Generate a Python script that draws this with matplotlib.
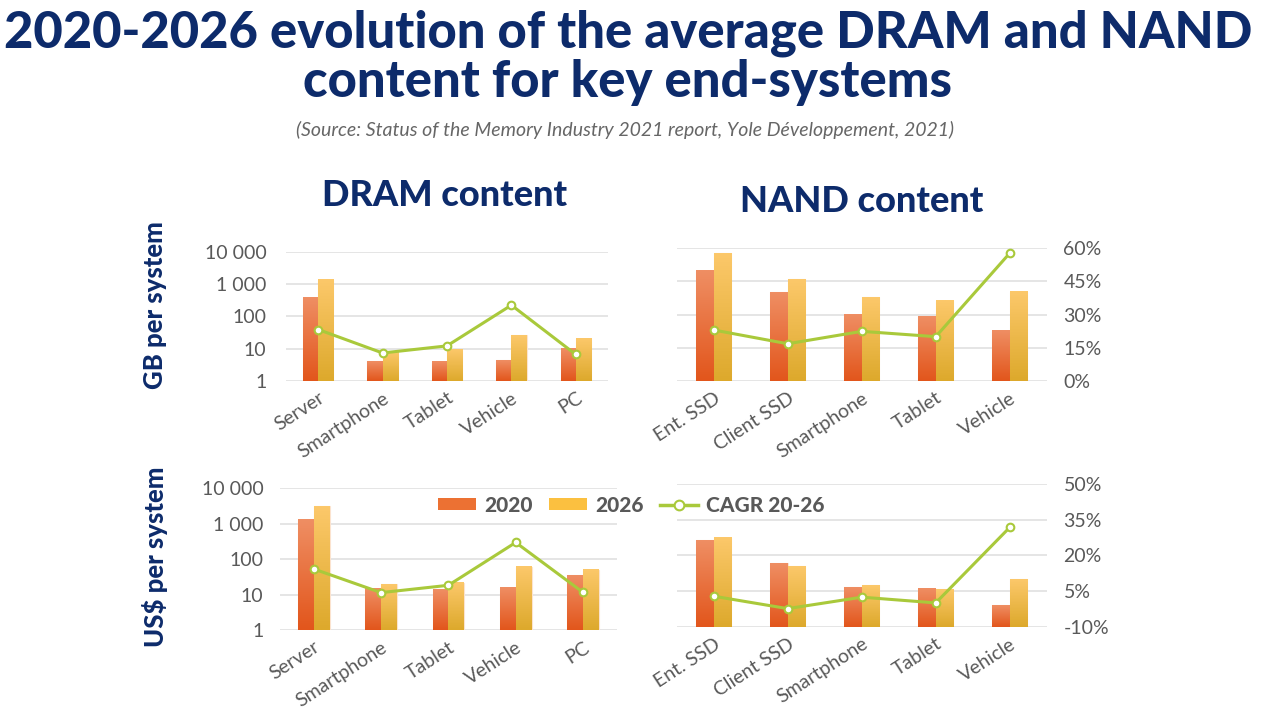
import matplotlib
matplotlib.use('Agg')
import matplotlib.pyplot as plt
import numpy as np
from matplotlib.colors import LinearSegmentedColormap
from matplotlib.lines import Line2D
from matplotlib.patches import Patch
from matplotlib.ticker import NullLocator

plt.rcParams['font.family'] = ['Lato', 'DejaVu Sans']

# categories
dram_cats = ['Server', 'Smartphone', 'Tablet', 'Vehicle', 'PC']
nand_cats = ['Ent. SSD', 'Client SSD', 'Smartphone', 'Tablet', 'Vehicle']

# GB per system
dram_gb_2020 = [380, 4.1, 3.9, 4.4, 10]
dram_gb_2026 = [1340, 8, 9.3, 26, 20]
dram_gb_cagr = [0.239, 0.13, 0.163, 0.352, 0.123]
nand_gb_2020 = [2100, 470, 100, 90, 32]
nand_gb_2026 = [7000, 1150, 330, 255, 475]
nand_gb_cagr = [0.23, 0.168, 0.224, 0.20, 0.577]

# US$ per system
dram_usd_2020 = [1280, 14.4, 14, 15.4, 35]
dram_usd_2026 = [3030, 19.5, 21.7, 60, 49]
dram_usd_cagr = [0.158, 0.058, 0.089, 0.27, 0.059]
nand_usd_2020 = [268, 60, 13, 11.6, 4.1]
nand_usd_2026 = [310, 50, 14.5, 11.4, 21.6]
nand_usd_cagr = [0.029, -0.023, 0.025, 0.001, 0.318]

log_ticks = [1, 10, 100, 1000, 10000]
log_labels = ['1', '10', '100', '1 000', '10 000']
gb_pct_ticks = [0, 0.15, 0.30, 0.45, 0.60]
usd_pct_ticks = [-0.10, 0.05, 0.20, 0.35, 0.50]

NAVY = '#0D2B6B'
GRAY = '#595959'
GREEN = '#A9C93B'
C20 = ('#EF8E63', '#E2561C')
C26 = ('#FCC86A', '#DDA92C')


def shade(ax, bars, top, bottom):
    cmap = LinearSegmentedColormap.from_list('g', [bottom, top])
    grad = np.linspace(1, 0, 64).reshape(-1, 1)
    to_axes = ax.transData + ax.transAxes.inverted()
    for r in bars:
        (x0, y0), (x1, y1) = to_axes.transform(
            [(r.get_x(), r.get_y()), (r.get_x() + r.get_width(), r.get_y() + r.get_height())])
        ax.imshow(grad, extent=(x0, x1, y0, y1), transform=ax.transAxes, cmap=cmap,
                  aspect='auto', origin='upper', zorder=2, interpolation='bilinear')
        r.set_facecolor('none')
        r.set_edgecolor('#FBE3CF')
        r.set_linewidth(0.8)


def panel(fig, rect, cats, v20, v26, cagr, pct_ticks, show_left, show_right, left_pad):
    ax = fig.add_axes(rect)
    ax.set_yscale('log')
    x = np.arange(len(cats))
    w = 0.235
    b1 = ax.bar(x - w / 2, np.array(v20) - 1, w, bottom=1, zorder=2)
    b2 = ax.bar(x + w / 2, np.array(v26) - 1, w, bottom=1, zorder=2)
    ax.set_xlim(-0.5, len(cats) - 0.5)
    ax.set_ylim(1, 10000)
    shade(ax, b1, *C20)
    shade(ax, b2, *C26)
    ax.set_xlim(-0.5, len(cats) - 0.5)
    ax.set_ylim(1, 10000)

    ax.set_yticks(log_ticks)
    ax.yaxis.set_minor_locator(NullLocator())
    ax.set_yticklabels(log_labels if show_left else [])
    ax.yaxis.grid(True, color='#E3E3E3', lw=1.3)
    ax.set_axisbelow(True)
    ax.set_xticks(x)
    ax.set_xticklabels(cats, rotation=33, ha='right', rotation_mode='anchor')
    ax.tick_params(axis='both', length=0, labelsize=14, labelcolor=GRAY)
    ax.tick_params(axis='y', pad=left_pad)
    ax.tick_params(axis='x', pad=6)
    for s in ax.spines.values():
        s.set_visible(False)

    ax2 = ax.twinx()
    ax2.plot(x, cagr, color=GREEN, lw=2.2, marker='o', ms=5.5, mfc='white',
             mec=GREEN, mew=1.5, zorder=3)
    ax2.set_ylim(pct_ticks[0], pct_ticks[-1])
    ax2.set_yticks(pct_ticks)
    ax2.set_yticklabels(['%d%%' % round(t * 100) for t in pct_ticks] if show_right else [])
    ax2.tick_params(axis='y', length=0, labelsize=14, labelcolor=GRAY, pad=12)
    for s in ax2.spines.values():
        s.set_visible(False)
    return ax


fig = plt.figure(figsize=(12.63, 7.26), dpi=100)
fig.patch.set_facecolor('white')

panel(fig, [0.2264, 0.4752, 0.2550, 0.1781], dram_cats, dram_gb_2020, dram_gb_2026,
      dram_gb_cagr, gb_pct_ticks, True, False, 14)
panel(fig, [0.5358, 0.4752, 0.2930, 0.1832], nand_cats, nand_gb_2020, nand_gb_2026,
      nand_gb_cagr, gb_pct_ticks, False, True, 14)
panel(fig, [0.2217, 0.1322, 0.2666, 0.1956], dram_cats, dram_usd_2020, dram_usd_2026,
      dram_usd_cagr, usd_pct_ticks, True, False, 12)
panel(fig, [0.5358, 0.1364, 0.2930, 0.1970], nand_cats, nand_usd_2020, nand_usd_2026,
      nand_usd_cagr, usd_pct_ticks, False, True, 12)

fig.text(0.497, 1 - 33 / 726, '2020-2026 evolution of the average DRAM and NAND',
         ha='center', va='center', fontsize=36.5, weight='black', color=NAVY)
fig.text(0.497, 1 - 82 / 726, 'content for key end-systems',
         ha='center', va='center', fontsize=36.5, weight='black', color=NAVY)
fig.text(0.495, 1 - 130 / 726,
         '(Source: Status of the Memory Industry 2021 report, Yole Développement, 2021)',
         ha='center', va='center', fontsize=14, style='italic', weight='normal', color='#666666')

fig.text(445 / 1263, 1 - 196 / 726, 'DRAM content', ha='center', va='center',
         fontsize=26, weight='black', color=NAVY)
fig.text(862 / 1263, 1 - 201 / 726, 'NAND content', ha='center', va='center',
         fontsize=26, weight='black', color=NAVY)

fig.text(155 / 1263, 1 - 305 / 726, 'GB per system', ha='center', va='center',
         rotation=90, fontsize=18.5, weight='black', color=NAVY)
fig.text(155 / 1263, 1 - 557 / 726, 'US$ per system', ha='center', va='center',
         rotation=90, fontsize=18.5, weight='black', color=NAVY)

handles = [Patch(fc='#EC7133'), Patch(fc='#FBC040'),
           Line2D([], [], color=GREEN, lw=2.5, marker='o', ms=7, mfc='white', mec=GREEN, mew=1.5)]
fig.legend(handles, ['2020', '2026', 'CAGR 20-26'], loc='center',
           bbox_to_anchor=(0.5, 1 - 505 / 726), ncol=3, frameon=False,
           prop=dict(weight='black', size=15), labelcolor=GRAY,
           handlelength=1.8, handleheight=0.55, columnspacing=0.8, handletextpad=0.4)

fig.savefig('out.png', dpi=100)
